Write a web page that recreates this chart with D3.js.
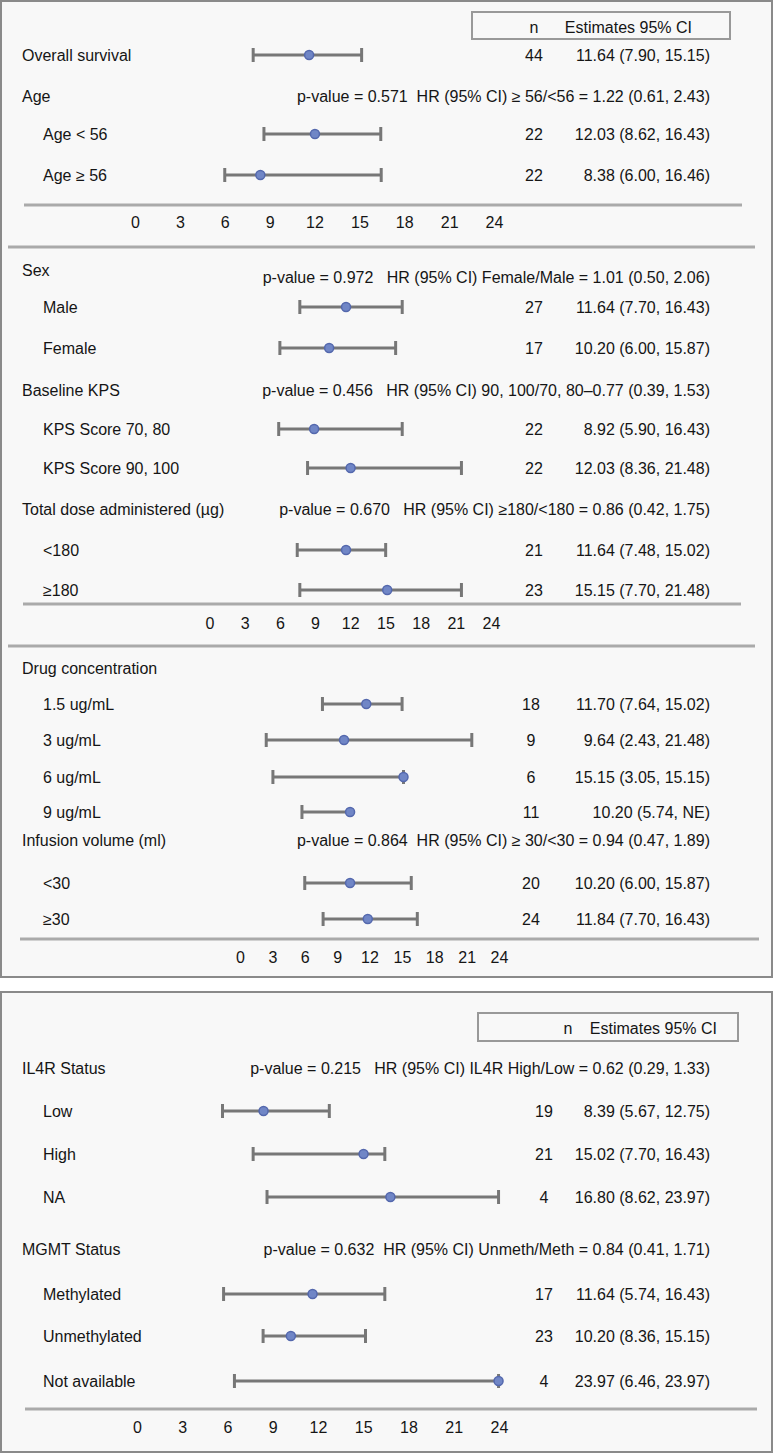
<!DOCTYPE html>
<html><head><meta charset="utf-8">
<script src="https://cdn.jsdelivr.net/npm/d3@7"></script>
<style>
body{margin:0;background:#fff}
text{font-family:"Liberation Sans",Arial,Helvetica,sans-serif;white-space:pre;fill:#151515}
</style>
</head><body><svg id="c" width="773" height="1453"></svg>
<script>
// ---------------- DATA ----------------
const rowLabels = [
  "Overall survival","Age","Age < 56","Age \u2265 56",
  "Sex","Male","Female","Baseline KPS","KPS Score 70, 80","KPS Score 90, 100",
  "Total dose administered (\u00b5g)","<180","\u2265180",
  "Drug concentration","1.5 ug/mL","3 ug/mL","6 ug/mL","9 ug/mL",
  "Infusion volume (ml)","<30","\u226530",
  "IL4R Status","Low","High","NA",
  "MGMT Status","Methylated","Unmethylated","Not available"
];
const rowSection = [0,0,0,0, 1,1,1,1,1,1,1,1,1, 2,2,2,2,2,2,2,2, 3,3,3,3,3,3,3,3];
const rowLevel   = [0,0,1,1, 0,1,1,0,1,1,0,1,1, 0,1,1,1,1,0,1,1, 0,1,1,1,0,1,1,1];
const nValues    = [44,null,22,22, null,27,17,null,22,22,null,21,23,
                    null,18,9,6,11,null,20,24, null,19,21,4,null,17,23,4];
const estimates  = [11.64,null,12.03,8.38, null,11.64,10.20,null,8.92,12.03,null,11.64,15.15,
                    null,11.70,9.64,15.15,10.20,null,10.20,11.84, null,8.39,15.02,16.80,null,11.64,10.20,23.97];
const lowerCI    = [7.90,null,8.62,6.00, null,7.70,6.00,null,5.90,8.36,null,7.48,7.70,
                    null,7.64,2.43,3.05,5.74,null,6.00,7.70, null,5.67,7.70,8.62,null,5.74,8.36,6.46];
const upperCI    = [15.15,null,16.43,16.46, null,16.43,15.87,null,16.43,21.48,null,15.02,21.48,
                    null,15.02,21.48,15.15,null,null,15.87,16.43, null,12.75,16.43,23.97,null,16.43,15.15,23.97];
const hrTexts    = [null,"p-value = 0.571  HR (95% CI) \u2265 56/<56 = 1.22 (0.61, 2.43)",null,null,
  "p-value = 0.972   HR (95% CI) Female/Male = 1.01 (0.50, 2.06)",null,null,
  "p-value = 0.456   HR (95% CI) 90, 100/70, 80\u20130.77 (0.39, 1.53)",null,null,
  "p-value = 0.670   HR (95% CI) \u2265180/<180 = 0.86 (0.42, 1.75)",null,null,
  null,null,null,null,null,
  "p-value = 0.864  HR (95% CI) \u2265 30/<30 = 0.94 (0.47, 1.89)",null,null,
  "p-value = 0.215   HR (95% CI) IL4R High/Low = 0.62 (0.29, 1.33)",null,null,null,
  "p-value = 0.632  HR (95% CI) Unmeth/Meth = 0.84 (0.41, 1.71)",null,null,null];
const tickValues = [0,3,6,9,12,15,18,21,24];
const headerLabels = ["n","Estimates 95% CI"];

// ---------------- LAYOUT ----------------
const rowY = [55,96,134,175, 270,307,348,390,429,468,509,550,590,
              668,704,740,777,812,840,883,919, 1068,1111,1154,1197,1249,1294,1336,1381];
const hrY  = {4:277};
const sections = [
  {x0:135,x1:494,axisY:205,axisX:[24,742],tickY:222,sepY:247,nX:534},
  {x0:209.5,x1:491,axisY:604,axisX:[23,741],tickY:623,sepY:646,nX:534},
  {x0:240,x1:499,axisY:939,axisX:[20,759],tickY:957,sepY:null,nX:531},
  {x0:137,x1:499,axisY:1409,axisX:[25,757],tickY:1427,sepY:null,nX:544}
];
const panels = [{y0:1,y1:977},{y0:992,y1:1452}];
const headers = [
  {box:[472,12,730,39],nX:534,estEnd:692,ty:27},
  {box:[478,1013,738,1041],nX:568,estEnd:717,ty:1028}
];

const svg = d3.select("#c");
const FS = 16;

panels.forEach(p=>{
  svg.append("rect").attr("x",1).attr("y",p.y0).attr("width",771).attr("height",p.y1-p.y0)
    .attr("fill","#f8f8f8").attr("stroke","#8a8a8a").attr("stroke-width",2);
});
headers.forEach(h=>{
  svg.append("rect").attr("x",h.box[0]).attr("y",h.box[1]).attr("width",h.box[2]-h.box[0])
    .attr("height",h.box[3]-h.box[1]).attr("fill","none").attr("stroke","#999").attr("stroke-width",2);
  svg.append("text").attr("x",h.nX).attr("y",h.ty).attr("dy","0.35em").attr("text-anchor","middle")
    .attr("font-size",FS).text(headerLabels[0]);
  svg.append("text").attr("x",h.estEnd).attr("y",h.ty).attr("dy","0.35em").attr("text-anchor","end")
    .attr("font-size",FS).text(headerLabels[1]);
});

const scales = sections.map(s=>d3.scaleLinear().domain([0,24]).range([s.x0,s.x1]));

// axes
sections.forEach((s,i)=>{
  svg.append("line").attr("x1",s.axisX[0]).attr("x2",s.axisX[1]).attr("y1",s.axisY).attr("y2",s.axisY)
    .attr("stroke","#aaa").attr("stroke-width",3);
  const ax = d3.axisBottom(scales[i]).tickValues(tickValues).tickSize(0).tickPadding(0);
  const g = svg.append("g").attr("transform",`translate(0,${s.tickY})`).call(ax);
  g.attr("font-size",16);
  g.select(".domain").remove();
  g.selectAll("text").attr("font-size",16).style("font-size","16px").attr("dy","0.35em").attr("y",0)
    .style("font-family","'Liberation Sans',Arial,sans-serif").attr("fill","#151515");
  if(s.sepY!=null){
    svg.append("line").attr("x1",8).attr("x2",755).attr("y1",s.sepY).attr("y2",s.sepY)
      .attr("stroke","#aaa").attr("stroke-width",3);
  }
});

// rows
const idx = d3.range(rowLabels.length);
idx.forEach(i=>{
  const y = rowY[i];
  svg.append("text").attr("x",rowLevel[i]===0?22:43).attr("y",y).attr("dy","0.35em")
    .attr("font-size",FS).text(rowLabels[i]);
  if(hrTexts[i]){
    svg.append("text").attr("x",710).attr("y",hrY[i]!=null?hrY[i]:y).attr("dy","0.35em")
      .attr("text-anchor","end").attr("font-size",FS).text(hrTexts[i]);
  }
  if(estimates[i]!=null){
    const sc = scales[rowSection[i]];
    const s = sections[rowSection[i]];
    const lo = lowerCI[i], hi = upperCI[i];
    const xr = hi!=null?sc(hi):sc(estimates[i]);
    svg.append("line").attr("x1",sc(lo)).attr("x2",xr).attr("y1",y).attr("y2",y)
      .attr("stroke","#777").attr("stroke-width",3);
    svg.append("line").attr("x1",sc(lo)).attr("x2",sc(lo)).attr("y1",y-7).attr("y2",y+7)
      .attr("stroke","#777").attr("stroke-width",3);
    if(hi!=null){
      svg.append("line").attr("x1",sc(hi)).attr("x2",sc(hi)).attr("y1",y-7).attr("y2",y+7)
        .attr("stroke","#777").attr("stroke-width",3);
    }
    svg.append("circle").attr("cx",sc(estimates[i])).attr("cy",y).attr("r",4.5)
      .attr("fill","#7086c6").attr("stroke","#5468ad").attr("stroke-width",1.5);
    svg.append("text").attr("x",s.nX).attr("y",y).attr("dy","0.35em").attr("text-anchor","middle")
      .attr("font-size",FS).text(nValues[i]);
    const txt = `${estimates[i].toFixed(2)} (${lo.toFixed(2)}, ${hi!=null?hi.toFixed(2):"NE"})`;
    svg.append("text").attr("x",710).attr("y",y).attr("dy","0.35em").attr("text-anchor","end")
      .attr("font-size",FS).text(txt);
  }
});
</script></body></html>
